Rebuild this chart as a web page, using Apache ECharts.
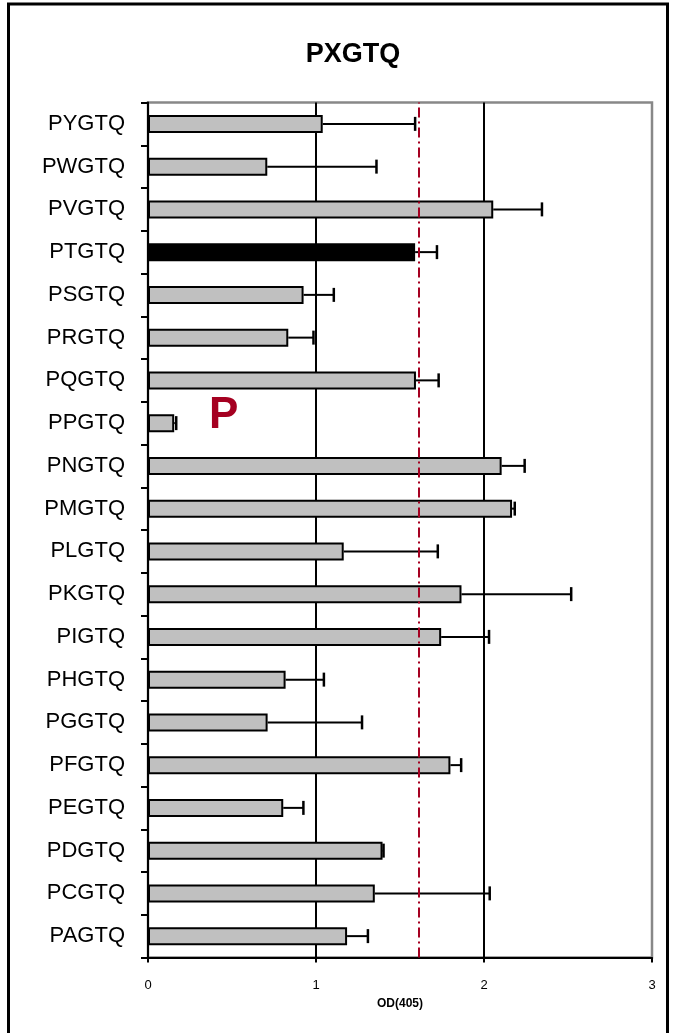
<!DOCTYPE html>
<html>
<head>
<meta charset="utf-8">
<script src="https://cdn.jsdelivr.net/npm/echarts@6/dist/echarts.min.js"></script>
<style>
  html, body { margin: 0; padding: 0; background: #ffffff; }
  #chart { width: 673px; height: 1033px; }
</style>
</head>
<body>
<div id="chart"></div>
<script>
// Peptide variants, listed bottom to top on the category axis
const categories = ['PAGTQ', 'PCGTQ', 'PDGTQ', 'PEGTQ', 'PFGTQ', 'PGGTQ', 'PHGTQ', 'PIGTQ', 'PKGTQ', 'PLGTQ',
                    'PMGTQ', 'PNGTQ', 'PPGTQ', 'PQGTQ', 'PRGTQ', 'PSGTQ', 'PTGTQ', 'PVGTQ', 'PWGTQ', 'PYGTQ'];
// Mean OD(405) per variant
const odValues = [1.185, 1.35, 1.396, 0.805, 1.80, 0.712, 0.819, 1.745, 1.866, 1.165,
                  2.167, 2.105, 0.156, 1.595, 0.835, 0.926, 1.59, 2.055, 0.71, 1.04];
// Upper error (standard deviation)
const odErrors = [0.124, 0.684, 0.006, 0.12, 0.064, 0.562, 0.228, 0.285, 0.653, 0.56,
                  0.016, 0.137, 0.012, 0.135, 0.15, 0.18, 0.13, 0.29, 0.65, 0.55];
// Wild-type reference variant (drawn in black) and its threshold level
const referenceName = 'PTGTQ';
const thresholdValue = 1.612;
const xTicks = [0, 1, 2, 3];

const chart = echarts.init(document.getElementById('chart'), null, { renderer: 'canvas' });
const FONT = 'Liberation Sans, Arial, sans-serif';

const barData = odValues.map((v, i) => ({
  value: v,
  itemStyle: { color: categories[i] === referenceName ? '#000000' : '#C0C0C0' }
}));
const errData = odValues.map((v, i) => [v, i, v + odErrors[i]]);

const option = {
  animation: false,
  backgroundColor: '#ffffff',
  title: {
    text: 'PXGTQ',
    left: 348,
    top: 36,
    textAlign: 'center',
    textStyle: { fontFamily: FONT, fontSize: 27, fontWeight: 'bold', color: '#000' }
  },
  grid: {
    left: 148, right: 21, top: 102.5, bottom: 75.5,
    show: true, borderColor: '#888888', borderWidth: 2.5, backgroundColor: 'transparent'
  },
  xAxis: {
    type: 'value',
    min: 0, max: 3, interval: 1,
    name: 'OD(405)',
    nameLocation: 'middle',
    nameGap: 40,
    nameTextStyle: { fontFamily: FONT, fontSize: 12, fontWeight: 'bold', color: '#000' },
    axisLine: { show: true, onZero: false, lineStyle: { color: '#000', width: 2 } },
    axisTick: { show: true, length: 5, lineStyle: { color: '#000', width: 2 } },
    axisLabel: {
      fontFamily: FONT, fontSize: 13, color: '#000', margin: 21,
      formatter: v => (xTicks.indexOf(v) >= 0 ? String(v) : '')
    },
    splitLine: {
      show: true,
      lineStyle: { color: ['#000000', '#000000', '#000000', 'rgba(0,0,0,0)'], width: 2 }
    }
  },
  yAxis: {
    type: 'category',
    data: categories,
    boundaryGap: true,
    axisLine: { show: true, lineStyle: { color: '#000', width: 2 } },
    axisTick: { show: true, length: 7, inside: false, lineStyle: { color: '#000', width: 2 } },
    axisLabel: { fontFamily: FONT, fontSize: 22, color: '#000', margin: 23 },
    splitLine: { show: false }
  },
  series: [
    {
      type: 'bar',
      data: barData,
      barWidth: 18,
      z: 2,
      itemStyle: { borderColor: '#000', borderWidth: 2 },
      markLine: {
        silent: true,
        symbol: ['none', 'none'],
        label: { show: false },
        lineStyle: { color: '#A50021', width: 2, type: [10, 4, 2, 4] },
        data: [{ xAxis: thresholdValue }]
      }
    },
    {
      type: 'custom',
      z: 3,
      data: errData,
      encode: { x: [0, 2], y: 1 },
      renderItem: function (params, api) {
        const idx = api.value(1);
        const p0 = api.coord([api.value(0), idx]);
        const p1 = api.coord([api.value(2), idx]);
        const capHalf = 7;
        return {
          type: 'group',
          children: [
            { type: 'line', shape: { x1: p0[0], y1: p0[1], x2: p1[0], y2: p1[1] },
              style: { stroke: '#000', lineWidth: 2 } },
            { type: 'line', shape: { x1: p1[0], y1: p1[1] - capHalf, x2: p1[0], y2: p1[1] + capHalf },
              style: { stroke: '#000', lineWidth: 2.5 } }
          ]
        };
      }
    }
  ],
  graphic: [
    {
      type: 'rect',
      shape: { x: 8.5, y: 4, width: 659, height: 1100 },
      style: { fill: 'none', stroke: '#000', lineWidth: 3 },
      silent: true
    },
    {
      type: 'text',
      left: 209,
      top: 394,
      style: { text: 'P', fontFamily: FONT, fontSize: 44, fontWeight: 'bold', fill: '#A50021' },
      silent: true
    }
  ]
};

chart.setOption(option);
</script>
</body>
</html>
